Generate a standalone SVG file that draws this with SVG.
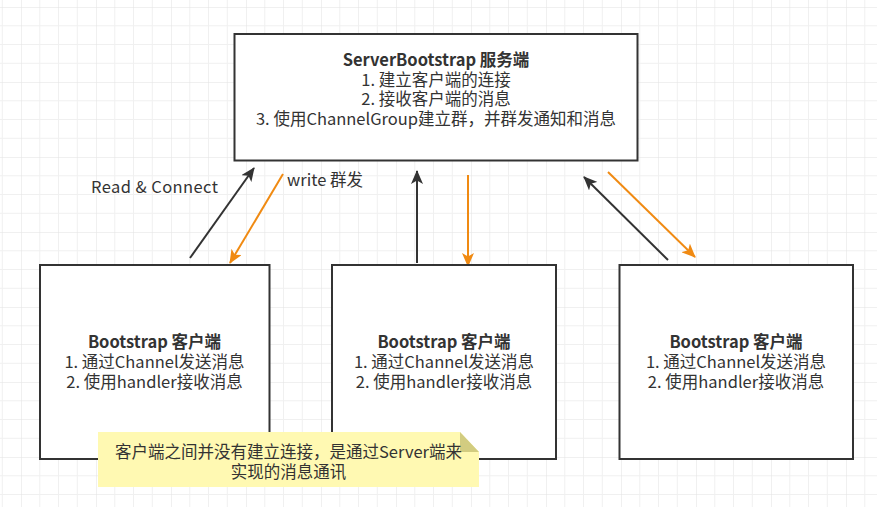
<svg xmlns="http://www.w3.org/2000/svg" width="877" height="507" viewBox="0 0 877 507">
  <style>
    .box { fill: #ffffff; stroke: #333333; stroke-width: 2; }
    .t { font-family: "Microsoft YaHei", "Noto Sans CJK SC", "Noto Sans", sans-serif; font-size: 16.5px; fill: #333333; text-anchor: middle; }
    .b { font-weight: bold; }
    .lbl { font-family: "Microsoft YaHei", "Noto Sans CJK SC", "Noto Sans", sans-serif; font-size: 16.5px; fill: #333333; }
    .dark { stroke: #333333; stroke-width: 2; fill: none; marker-end: url(#ah-dark); }
    .orange { stroke: #f08a12; stroke-width: 2; fill: none; marker-end: url(#ah-orange); }
  </style>
  <defs>
    <pattern id="grid" patternUnits="userSpaceOnUse" x="21" y="7" width="75" height="75">
      <path d="M18.75,0 V75 M37.5,0 V75 M56.25,0 V75 M0,18.75 H75 M0,37.5 H75 M0,56.25 H75" stroke="#f0f0f0" stroke-width="1" fill="none"/>
      <path d="M0,0 V75 M0,0 H75" stroke="#e2e2e2" stroke-width="1" fill="none"/>
    </pattern>
    <marker id="ah-dark" markerUnits="userSpaceOnUse" markerWidth="14" markerHeight="12" refX="13" refY="6" orient="auto">
      <path d="M0,0 L14,6 L0,12 L3.5,6 z" fill="#333333"/>
    </marker>
    <marker id="ah-orange" markerUnits="userSpaceOnUse" markerWidth="14" markerHeight="12" refX="13" refY="6" orient="auto">
      <path d="M0,0 L14,6 L0,12 L3.5,6 z" fill="#f08a12"/>
    </marker>
  </defs>

  <rect width="877" height="507" fill="#ffffff"/>
  <rect width="877" height="507" fill="url(#grid)"/>

  <g id="connectors">
    <line class="dark" x1="190" y1="258" x2="254" y2="168"/>
    <line class="orange" x1="283" y1="174" x2="230" y2="263"/>
    <line class="dark" x1="417" y1="263" x2="417" y2="171"/>
    <line class="orange" x1="468" y1="175" x2="468" y2="266"/>
    <line class="dark" x1="668" y1="260" x2="584" y2="177"/>
    <line class="orange" x1="608" y1="172" x2="695" y2="257"/>
    <text class="lbl" x="91" y="193" textLength="127" lengthAdjust="spacing">Read &amp; Connect</text>
    <text class="lbl" x="287" y="186">write 群发</text>
  </g>

  <g id="server">
    <rect class="box" x="234.5" y="34" width="403" height="126.5"/>
    <text class="t b" x="436" y="66">ServerBootstrap 服务端</text>
    <text class="t" x="436" y="85.5">1. 建立客户端的连接</text>
    <text class="t" x="436" y="105">2. 接收客户端的消息</text>
    <text class="t" x="436" y="124.5">3. 使用ChannelGroup建立群，并群发通知和消息</text>
  </g>

  <g id="client1">
    <rect class="box" x="40" y="265" width="229.5" height="194"/>
    <text class="t b" x="154.5" y="348">Bootstrap 客户端</text>
    <text class="t" x="154.5" y="368">1. 通过Channel发送消息</text>
    <text class="t" x="154.5" y="387.5">2. 使用handler接收消息</text>
  </g>

  <g id="client2">
    <rect class="box" x="332" y="265" width="224" height="194"/>
    <text class="t b" x="444" y="348">Bootstrap 客户端</text>
    <text class="t" x="444" y="368">1. 通过Channel发送消息</text>
    <text class="t" x="444" y="387.5">2. 使用handler接收消息</text>
  </g>

  <g id="client3">
    <rect class="box" x="619.5" y="265" width="233.5" height="194"/>
    <text class="t b" x="736" y="348">Bootstrap 客户端</text>
    <text class="t" x="736" y="368">1. 通过Channel发送消息</text>
    <text class="t" x="736" y="387.5">2. 使用handler接收消息</text>
  </g>

  <g id="note">
    <path d="M98,432 H460 L479,452 V487 H98 Z" fill="#fff9b2"/>
    <path d="M460,432 L479,452 H460 Z" fill="#d2cc80"/>
    <text class="t" x="288.5" y="458">客户端之间并没有建立连接，是通过Server端来</text>
    <text class="t" x="288.5" y="478">实现的消息通讯</text>
  </g>
</svg>
